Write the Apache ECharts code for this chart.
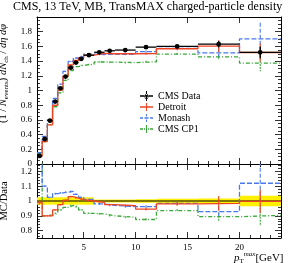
<!DOCTYPE html>
<html><head><meta charset="utf-8">
<script src="https://cdn.jsdelivr.net/npm/echarts@6/dist/echarts.min.js"></script>
<style>html,body{margin:0;padding:0;background:#fff}#c{width:291px;height:263px}</style>
</head><body><div id="c"></div>
<script>
// ---- data ----
const binEdges = [0.5, 1, 1.5, 2, 2.5, 3, 3.5, 4, 4.5, 5, 6, 7, 8, 10, 12, 16, 20, 24];
const dataValues = [0.11, 0.34, 0.59, 0.85, 1.03, 1.19, 1.31, 1.38, 1.43, 1.48, 1.52, 1.54, 1.55, 1.59, 1.60, 1.63, 1.52];
const dataErrors = [0.008, 0.01, 0.012, 0.015, 0.015, 0.018, 0.018, 0.02, 0.02, 0.02, 0.02, 0.02, 0.02, 0.022, 0.025, 0.045, 0.08];
const dataBandRel = [0.025, 0.025, 0.025, 0.025, 0.025, 0.025, 0.025, 0.025, 0.025, 0.025, 0.01, 0.01, 0.01, 0.012, 0.015, 0.017, 0.035];

const detroitValues = [0.109, 0.306, 0.531, 0.799, 1.004, 1.196, 1.349, 1.408, 1.444, 1.48, 1.505, 1.50, 1.50, 1.503, 1.568, 1.604, 1.517];
const monashValues  = [0.154, 0.374, 0.605, 0.893, 1.087, 1.261, 1.395, 1.442, 1.466, 1.495, 1.49, 1.494, 1.491, 1.53, 1.574, 1.513, 1.702];
const cp1Values     = [0.143, 0.306, 0.534, 0.779, 0.968, 1.139, 1.271, 1.325, 1.344, 1.357, 1.388, 1.386, 1.38, 1.391, 1.496, 1.457, 1.373];

const detroitRatio = [0.99, 0.90, 0.90, 0.94, 0.975, 1.005, 1.03, 1.02, 1.01, 1.0, 0.99, 0.975, 0.968, 0.945, 0.98, 0.984, 0.998];
const monashRatio  = [1.40, 1.10, 1.025, 1.05, 1.055, 1.06, 1.065, 1.045, 1.025, 1.01, 0.98, 0.97, 0.962, 0.962, 0.984, 0.928, 1.12];
const cp1Ratio     = [1.30, 0.90, 0.905, 0.917, 0.94, 0.957, 0.97, 0.96, 0.94, 0.917, 0.913, 0.90, 0.89, 0.875, 0.935, 0.894, 0.903];

const detroitRelErr = [0.01, 0.005, 0.005, 0.005, 0.005, 0.005, 0.005, 0.005, 0.005, 0.005, 0.006, 0.006, 0.008, 0.01, 0.012, 0.05, 0.08];
const monashRelErr  = [0.01, 0.005, 0.005, 0.005, 0.005, 0.005, 0.005, 0.005, 0.005, 0.005, 0.006, 0.006, 0.008, 0.01, 0.012, 0.04, 0.13];
const cp1RelErr     = [0.01, 0.005, 0.005, 0.005, 0.005, 0.005, 0.005, 0.005, 0.005, 0.005, 0.006, 0.006, 0.008, 0.01, 0.012, 0.03, 0.08];

const xMajorTicks = [5, 10, 15, 20];
const xMinorTicks = [1, 2, 3, 4, 6, 7, 8, 9, 11, 12, 13, 14, 16, 17, 18, 19, 21, 22, 23];
const ratioMajorTicks = [0.8, 0.9, 1, 1.1, 1.2];
const ratioMinorTicks = [0.76, 0.78, 0.82, 0.84, 0.86, 0.88, 0.92, 0.94, 0.96, 0.98, 1.02, 1.04, 1.06, 1.08, 1.12, 1.14, 1.16, 1.18, 1.22, 1.24];

// ---- styling ----
const FONT = '"Liberation Serif","DejaVu Serif",serif';
const RED = '#ee4422', BLUE = '#4a78f0', GREEN = '#38a838';

function steps(vals) {
  const pts = [];
  vals.forEach((v, i) => { pts.push([binEdges[i], v]); pts.push([binEdges[i + 1], v]); });
  return pts;
}
function binRows(vals, extra) {
  return vals.map((v, i) => [binEdges[i], binEdges[i + 1], v, extra[i]]);
}
const fmt = v => String(+(+v).toFixed(2));

function xAx(grid, pos, ticks, len, extra) {
  return Object.assign({
    type: 'value', gridIndex: grid, position: pos, min: 0.5, max: 24,
    axisLine: { show: true, onZero: false, lineStyle: { color: '#000', width: 1 } },
    axisTick: { show: true, inside: true, length: len, customValues: ticks, lineStyle: { color: '#000', width: 0.8 } },
    axisLabel: { show: false }, splitLine: { show: false }
  }, extra || {});
}
function yRatio(pos, ticks, len, extra) {
  return Object.assign({
    type: 'value', gridIndex: 1, position: pos, min: 0.75, max: 1.25,
    axisLine: { show: true, onZero: false, lineStyle: { color: '#000', width: 1 } },
    axisTick: { show: true, inside: true, length: len, customValues: ticks, lineStyle: { color: '#000', width: 0.8 } },
    axisLabel: { show: false }, splitLine: { show: false }
  }, extra || {});
}
function yMain(pos, extra) {
  return Object.assign({
    type: 'value', gridIndex: 0, position: pos, min: 0, max: 2, interval: 0.2,
    axisLine: { show: true, onZero: false, lineStyle: { color: '#000', width: 1 } },
    axisTick: { show: true, inside: true, length: 6, lineStyle: { color: '#000', width: 0.8 } },
    minorTick: { show: true, splitNumber: 4, length: 3, lineStyle: { color: '#000', width: 0.8 } },
    axisLabel: { show: false }, splitLine: { show: false }, minorSplitLine: { show: false }
  }, extra || {});
}

function stepSeries(name, vals, color, dash, xi, yi) {
  return {
    type: 'line', name: name, xAxisIndex: xi, yAxisIndex: yi, data: steps(vals),
    showSymbol: false, symbol: 'none', clip: true, z: 3, silent: true,
    lineStyle: { color: color, width: 1.3, type: dash }, itemStyle: { color: color }
  };
}
function errSeries(name, vals, relErr, color, dash, xi, yi) {
  return {
    type: 'custom', name: name, xAxisIndex: xi, yAxisIndex: yi, clip: true, z: 3, silent: true,
    itemStyle: { color: color },
    data: binRows(vals, relErr),
    encode: { x: [0, 1], y: 2 },
    renderItem: (p, api) => {
      const c = (api.value(0) + api.value(1)) / 2, v = api.value(2), e = v * api.value(3);
      const a = api.coord([c, v + e]), b = api.coord([c, v - e]);
      return { type: 'line', shape: { x1: a[0], y1: a[1], x2: b[0], y2: b[1] },
        style: { stroke: color, lineWidth: 1.1, lineDash: dash } };
    }
  };
}

const dashBlue = [5, 2], dashGreen = [4, 2, 1, 2];

const option = {
  animation: false,
  backgroundColor: '#fff',
  title: {
    text: 'CMS, 13 TeV, MB, TransMAX charged-particle density',
    left: 13, top: 1, padding: 0,
    textStyle: { fontFamily: FONT, fontSize: 12, fontWeight: 'normal', color: '#000' }
  },
  legend: {
    orient: 'vertical', left: 140, top: 91, itemWidth: 13, itemHeight: 10, itemGap: 1,
    padding: 0, selectedMode: false,
    itemStyle: { borderWidth: 0 },
    textStyle: { fontFamily: FONT, fontSize: 10, color: '#000' },
    data: [
      { name: 'CMS Data', icon: 'path://M0,8.5H26V11.5H0Z M12,0H14V20H12Z M13,8A4,4 0 1 1 12.99,8Z M13,6A4,4 0 1 0 13.01,6Z' },
      { name: 'Detroit', icon: 'path://M0,8.5H26V11.5H0Z M12,2H14V18H12Z M0,0H0.01V20H0Z' },
      { name: 'Monash', icon: 'path://M0,8.5H6V11.5H0Z M9,8.5H17V11.5H9Z M20,8.5H26V11.5H20Z M12,2H14V7H12Z M12,13H14V18H12Z M0,0H0.01V20H0Z' },
      { name: 'CMS CP1', icon: 'path://M0,8.5H6V11.5H0Z M8,8.5H10V11.5H8Z M16,8.5H18V11.5H16Z M20,8.5H26V11.5H20Z M12,2H14V18H12Z M0,0H0.01V20H0Z' }
    ]
  },
  grid: [
    { left: 37, right: 10, top: 17, height: 147, outerBoundsMode: 'none', containLabel: false },
    { left: 37, right: 10, top: 164, height: 74, outerBoundsMode: 'none', containLabel: false }
  ],
  xAxis: [
    xAx(0, 'bottom', xMajorTicks, 6),
    xAx(0, 'bottom', xMinorTicks, 3, { axisLine: { show: false } }),
    xAx(0, 'top', xMajorTicks, 6),
    xAx(0, 'top', xMinorTicks, 3, { axisLine: { show: false } }),
    xAx(1, 'top', xMajorTicks, 6),
    xAx(1, 'top', xMinorTicks, 3, { axisLine: { show: false } }),
    xAx(1, 'bottom', xMajorTicks, 6, {
      axisLabel: { show: true, customValues: xMajorTicks, fontFamily: FONT, fontSize: 9, color: '#000', margin: 5 },
      name: '{i|p}{sub|T}{sup|max}{n|[GeV]}', nameLocation: 'end', nameGap: -47, nameMoveOverlap: false,
      nameTextStyle: {
        align: 'left', verticalAlign: 'top', padding: [13, 0, 0, 0],
        fontFamily: FONT, fontSize: 11, color: '#000',
        rich: {
          i: { fontFamily: FONT, fontSize: 11, fontStyle: 'italic', lineHeight: 14, verticalAlign: 'middle' },
          sub: { fontFamily: FONT, fontSize: 7, lineHeight: 14, verticalAlign: 'bottom' },
          sup: { fontFamily: FONT, fontSize: 7, fontStyle: 'italic', lineHeight: 14, verticalAlign: 'top' },
          n: { fontFamily: FONT, fontSize: 11, lineHeight: 14, verticalAlign: 'middle' }
        }
      }
    }),
    xAx(1, 'bottom', xMinorTicks, 3, { axisLine: { show: false } })
  ],
  yAxis: [
    yMain('left', {
      axisLabel: { show: true, showMaxLabel: false, formatter: fmt, fontFamily: FONT, fontSize: 9, color: '#000', margin: 5 },
      name: '(1 / {i|N}{sub|events}) {i|dN}{sub|ch} / {i|dη dφ}', nameLocation: 'middle', nameRotate: 90, nameGap: 21,
      nameTextStyle: {
        fontFamily: FONT, fontSize: 10.5, color: '#000', padding: [0, 0, 0, 34],
        rich: {
          i: { fontFamily: FONT, fontSize: 10.5, fontStyle: 'italic', lineHeight: 14, verticalAlign: 'middle' },
          sub: { fontFamily: FONT, fontSize: 7, lineHeight: 14, verticalAlign: 'bottom' }
        }
      }
    }),
    yMain('right'),
    yRatio('left', ratioMajorTicks, 6, {
      axisLabel: { show: true, customValues: ratioMajorTicks, formatter: fmt, fontFamily: FONT, fontSize: 9, color: '#000', margin: 5 },
      name: 'MC/Data', nameLocation: 'middle', nameRotate: 90, nameGap: 21,
      nameTextStyle: { fontFamily: FONT, fontSize: 10.5, color: '#000' }
    }),
    yRatio('left', ratioMinorTicks, 3, { axisLine: { show: false } }),
    yRatio('right', ratioMajorTicks, 6),
    yRatio('right', ratioMinorTicks, 3, { axisLine: { show: false } })
  ],
  series: [
    // main panel
    stepSeries('CMS CP1', cp1Values, GREEN, dashGreen, 0, 0),
    errSeries('CMS CP1', cp1Values, cp1RelErr, GREEN, [2, 1], 0, 0),
    stepSeries('Monash', monashValues, BLUE, dashBlue, 0, 0),
    errSeries('Monash', monashValues, monashRelErr, BLUE, [4, 2], 0, 0),
    stepSeries('Detroit', detroitValues, RED, 'solid', 0, 0),
    errSeries('Detroit', detroitValues, detroitRelErr, RED, null, 0, 0),
    {
      type: 'custom', name: 'CMS Data', xAxisIndex: 0, yAxisIndex: 0, z: 5, silent: true, clip: true,
      itemStyle: { color: '#000' },
      data: binRows(dataValues, dataErrors),
      encode: { x: [0, 1], y: 2 },
      renderItem: (p, api) => {
        const lo = api.value(0), hi = api.value(1), v = api.value(2), e = api.value(3), c = (lo + hi) / 2;
        const pl = api.coord([lo, v]), pr = api.coord([hi, v]), pt = api.coord([c, v + e]), pb = api.coord([c, v - e]);
        return { type: 'group', children: [
          { type: 'line', shape: { x1: pl[0], y1: pl[1], x2: pr[0], y2: pr[1] }, style: { stroke: '#000', lineWidth: 1.3 } },
          { type: 'line', shape: { x1: pt[0], y1: pt[1], x2: pb[0], y2: pb[1] }, style: { stroke: '#000', lineWidth: 1.3 } },
          { type: 'circle', shape: { cx: (pl[0] + pr[0]) / 2, cy: pl[1], r: 2.4 }, style: { fill: '#000' } }
        ] };
      }
    },
    // ratio panel
    {
      type: 'custom', name: 'band', xAxisIndex: 6, yAxisIndex: 2, z: 1, silent: true, clip: true,
      data: binRows(dataBandRel, dataBandRel),
      encode: { x: [0, 1], y: 2 },
      renderItem: (p, api) => {
        const e = api.value(2);
        const a = api.coord([api.value(0), 1 + e]), b = api.coord([api.value(1), 1 - e]);
        return { type: 'rect', shape: { x: a[0], y: a[1], width: b[0] - a[0], height: b[1] - a[1] }, style: { fill: '#fff000' } };
      }
    },
    {
      type: 'line', name: 'unity', xAxisIndex: 6, yAxisIndex: 2, z: 2, silent: true, showSymbol: false, symbol: 'none',
      data: [[binEdges[0], 1], [binEdges[binEdges.length - 1], 1]],
      lineStyle: { color: '#000', width: 1.2 }
    },
    stepSeries('CMS CP1 ratio', cp1Ratio, GREEN, dashGreen, 6, 2),
    errSeries('CMS CP1 ratio', cp1Ratio, cp1RelErr, GREEN, [2, 1], 6, 2),
    stepSeries('Monash ratio', monashRatio, BLUE, dashBlue, 6, 2),
    errSeries('Monash ratio', monashRatio, monashRelErr, BLUE, [4, 2], 6, 2),
    stepSeries('Detroit ratio', detroitRatio, RED, 'solid', 6, 2),
    errSeries('Detroit ratio', detroitRatio, detroitRelErr, RED, null, 6, 2)
  ]
};
const chart = echarts.init(document.getElementById('c'), null, { renderer: 'canvas' });
chart.setOption(option);
</script>
</body></html>
